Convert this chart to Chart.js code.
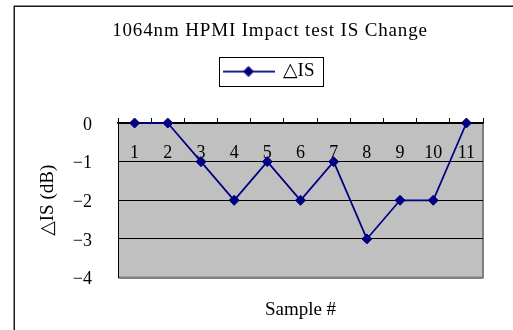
<!DOCTYPE html>
<html>
<head>
<meta charset="utf-8">
<script src="https://cdn.jsdelivr.net/npm/chart.js@4/dist/chart.umd.min.js"></script>
<style>
  html, body { margin: 0; padding: 0; background: #fff; overflow: hidden; }
  #wrap { width: 513px; height: 330px; }
</style>
</head>
<body>
<div id="wrap"><canvas id="c" width="513" height="330"></canvas></div>
<script>
// Sample numbers along the category axis
const samples = ['1', '2', '3', '4', '5', '6', '7', '8', '9', '10', '11'];
// IS change per sample, in dB
const deltaIS = [0, 0, -1, -2, -1, -2, -1, -3, -2, -2, 0];
// Value axis ticks
const valueTicks = [0, -1, -2, -3, -4];

const NAVY = '#000080';
const SERIF = "'Liberation Serif', 'DejaVu Serif', serif";

// Legend sample: a short line with a diamond marker in the middle
function legendSample() {
  const c = document.createElement('canvas');
  c.width = 52; c.height = 14;
  const g = c.getContext('2d');
  g.strokeStyle = NAVY; g.lineWidth = 1.75;
  g.beginPath(); g.moveTo(0, 7); g.lineTo(52, 7); g.stroke();
  g.fillStyle = NAVY;
  g.beginPath();
  g.moveTo(25, 1.5); g.lineTo(30.5, 7); g.lineTo(25, 12.5); g.lineTo(19.5, 7);
  g.closePath(); g.fill();
  return c;
}
const sampleIcon = legendSample();

// Plot-area fill, plot border, outer frame, spaced title and the legend box
const framePlugin = {
  id: 'frame',
  beforeDraw(chart) {
    const tb = chart.titleBlock;
    if (tb && !tb._spaced) {
      const draw = tb.draw;
      tb.draw = function (...args) {
        const ctx = this.ctx;
        const prev = ctx.letterSpacing;
        ctx.letterSpacing = '0.85px';
        draw.apply(this, args);
        ctx.letterSpacing = prev || '0px';
      };
      tb._spaced = true;
    }
    const { ctx, chartArea: a } = chart;
    ctx.save();
    ctx.fillStyle = '#C0C0C0';
    ctx.fillRect(a.left, a.top, a.right - a.left, a.bottom - a.top);
    ctx.strokeStyle = '#808080';
    ctx.lineWidth = 2;
    ctx.beginPath();
    ctx.moveTo(a.right, a.top);
    ctx.lineTo(a.right, a.bottom);
    ctx.lineTo(a.left, a.bottom);
    ctx.stroke();
    ctx.strokeStyle = '#1a1a1a';
    ctx.lineWidth = 1.5;
    ctx.beginPath();
    ctx.moveTo(14.25, chart.height + 4);
    ctx.lineTo(14.25, 6.25);
    ctx.lineTo(chart.width + 4, 6.25);
    ctx.stroke();
    ctx.restore();
  },
  afterDraw(chart) {
    const hb = chart.legend && chart.legend.legendHitBoxes && chart.legend.legendHitBoxes[0];
    if (!hb) return;
    const { ctx } = chart;
    const cy = hb.top + hb.height / 2;
    const l = Math.round(hb.left - 6) + 0.5;
    const r = Math.round(hb.left + hb.width + 8) + 0.5;
    const t = Math.round(cy - 14.5) + 0.5;
    const b = Math.round(cy + 14.5) + 0.5;
    ctx.save();
    ctx.strokeStyle = '#000';
    ctx.lineWidth = 1;
    ctx.strokeRect(l, t, r - l, b - t);
    ctx.restore();
  }
};

new Chart(document.getElementById('c'), {
  type: 'line',
  data: {
    labels: samples,
    datasets: [{
      label: '\u25B3IS',
      data: deltaIS,
      borderColor: NAVY,
      backgroundColor: NAVY,
      borderWidth: 1.75,
      pointStyle: 'rectRot',
      pointRadius: 5,
      pointBackgroundColor: NAVY,
      pointBorderColor: NAVY,
      pointBorderWidth: 1,
      tension: 0,
      clip: false
    }]
  },
  options: {
    responsive: false,
    devicePixelRatio: 1,
    animation: false,
    layout: { padding: { left: 30, right: 3, top: 0, bottom: 0 } },
    plugins: {
      title: {
        display: true,
        text: '1064nm HPMI Impact test IS Change',
        color: '#000',
        font: { family: SERIF, size: 19, weight: 'normal' },
        padding: { top: 19.6, bottom: 9.6 }
      },
      legend: {
        display: true,
        position: 'top',
        labels: {
          color: '#000',
          font: { family: SERIF, size: 19 },
          usePointStyle: true,
          pointStyleWidth: 48,
          padding: 10,
          generateLabels(chart) {
            const items = Chart.defaults.plugins.legend.labels.generateLabels(chart);
            items.forEach(it => { it.pointStyle = sampleIcon; });
            return items;
          }
        }
      },
      tooltip: { enabled: false }
    },
    scales: {
      x: {
        type: 'category',
        position: { y: 0 },
        offset: true,
        grid: { display: false, drawTicks: false },
        border: { display: false },
        ticks: {
          padding: 19,
          color: '#000',
          maxRotation: 0,
          autoSkip: false,
          font: { family: SERIF, size: 18 }
        }
      },
      xTop: {
        type: 'category',
        position: 'top',
        offset: true,
        grid: {
          display: true,
          offset: true,
          drawOnChartArea: false,
          drawTicks: true,
          tickLength: 5,
          tickColor: '#000',
          tickWidth: 1,
          color: '#000'
        },
        border: { display: true, color: '#000', width: 1.5 },
        ticks: { display: false },
        afterFit(s) { s.height = 32; }
      },
      xBottom: {
        type: 'category',
        position: 'bottom',
        offset: true,
        grid: { display: false, drawTicks: false },
        border: { display: false },
        ticks: { display: false },
        title: {
          display: true,
          text: 'Sample #',
          color: '#000',
          font: { family: SERIF, size: 19 },
          padding: { top: 21, bottom: 8.6 }
        }
      },
      y: {
        position: 'left',
        min: -4,
        max: 0,
        afterBuildTicks(s) { s.ticks = valueTicks.map(v => ({ value: v })); },
        grid: {
          color: c => (c.tick && c.tick.value === -4 ? '#808080' : '#000'),
          lineWidth: c => (c.tick && c.tick.value === -4 ? 2 : 1),
          drawTicks: false
        },
        border: { display: true, color: '#000', width: 1 },
        ticks: {
          padding: 26,
          labelOffset: 2,
          color: '#000',
          font: { family: SERIF, size: 18 },
          callback: v => (v < 0 ? '\u2212' + Math.abs(v) : String(v))
        },
        title: {
          display: true,
          text: '\u25B3IS (dB)',
          color: '#000',
          font: { family: SERIF, size: 19 },
          padding: { top: 6.6, bottom: 0 }
        },
        afterFit(s) { s.width = 88; }
      },
      yPad: {
        position: 'right',
        display: true,
        grid: { display: false, drawTicks: false },
        border: { display: false },
        ticks: { display: false },
        afterFit(s) { s.width = 27; }
      }
    }
  },
  plugins: [framePlugin]
});
</script>
</body>
</html>
